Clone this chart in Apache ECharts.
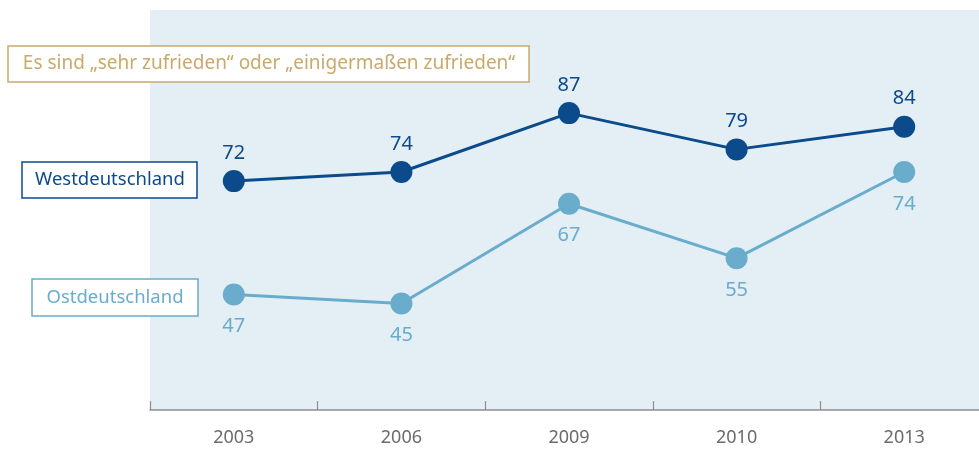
<!DOCTYPE html>
<html><head><meta charset="utf-8">
<script src="https://cdn.jsdelivr.net/npm/echarts@6/dist/echarts.min.js"></script>
<style>html,body{margin:0;padding:0;background:#fff;overflow:hidden}#c{width:1000px;height:450px}</style>
</head><body><div id="c"></div>
<script>
var years = ['2003', '2006', '2009', '2010', '2013'];
var west = [72, 74, 87, 79, 84];
var east = [47, 45, 67, 55, 74];
var titleText = 'Es sind \u201Esehr zufrieden\u201C oder \u201Eeinigerma\u00DFen zufrieden\u201C';
var westName = 'Westdeutschland';
var eastName = 'Ostdeutschland';

var darkBlue = '#0b4a8b';
var lightBlue = '#6aaccc';
var font = 'Noto Sans';
var chart = echarts.init(document.getElementById('c'));
chart.setOption({
  animation: false,
  grid: {left: 150, top: 10, width: 838, height: 400, show: true, backgroundColor: '#e3eff5', borderWidth: 0},
  xAxis: {
    type: 'category', data: years, boundaryGap: true,
    axisLine: {lineStyle: {color: '#8f8f8f', width: 1.5}},
    axisTick: {show: true, inside: true, length: 9, lineStyle: {color: '#8f8f8f', width: 1.2}},
    axisLabel: {color: '#6b6b6b', fontSize: 18, fontFamily: font, margin: 19}
  },
  yAxis: {type: 'value', min: 21.5, max: 109.75, show: false, splitLine: {show: false}},
  series: [
    {name: westName, type: 'line', data: west, symbol: 'circle', symbolSize: 22,
     lineStyle: {color: darkBlue, width: 3}, itemStyle: {color: darkBlue},
     label: {show: true, position: 'top', distance: 7, color: darkBlue, fontSize: 20, fontFamily: font}},
    {name: eastName, type: 'line', data: east, symbol: 'circle', symbolSize: 22,
     lineStyle: {color: lightBlue, width: 3}, itemStyle: {color: lightBlue},
     label: {show: true, position: 'bottom', distance: 11, color: lightBlue, fontSize: 20, fontFamily: font}}
  ],
  graphic: [
    {type: 'rect', shape: {x: 8, y: 46, width: 521, height: 36}, style: {fill: '#fff', stroke: '#c9a96c', lineWidth: 1.5}},
    {type: 'text', x: 269, y: 64, style: {text: titleText, fill: '#c9a96c', fontSize: 19, fontFamily: font, align: 'center', verticalAlign: 'middle'}},
    {type: 'rect', shape: {x: 22, y: 162, width: 175, height: 36}, style: {fill: '#fff', stroke: darkBlue, lineWidth: 1.5}},
    {type: 'text', x: 110, y: 180, style: {text: westName, fill: darkBlue, fontSize: 18.5, fontFamily: font, align: 'center', verticalAlign: 'middle'}},
    {type: 'rect', shape: {x: 32, y: 279, width: 166, height: 37}, style: {fill: '#fff', stroke: lightBlue, lineWidth: 1.5}},
    {type: 'text', x: 115, y: 298, style: {text: eastName, fill: lightBlue, fontSize: 18.5, fontFamily: font, align: 'center', verticalAlign: 'middle'}}
  ]
});
</script></body></html>
